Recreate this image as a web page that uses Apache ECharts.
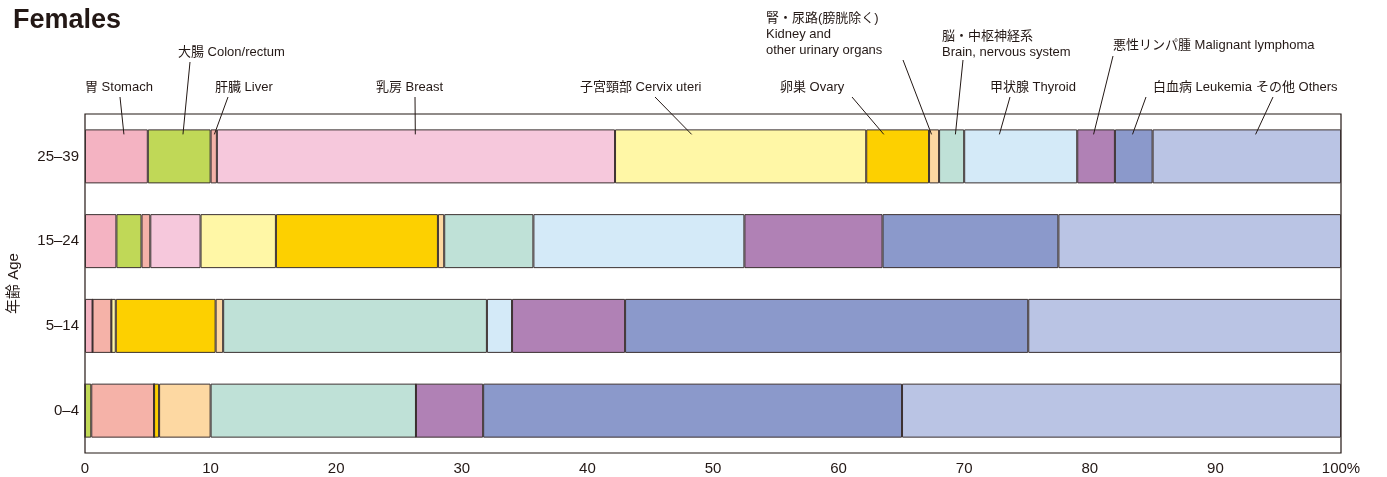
<!DOCTYPE html>
<html>
<head>
<meta charset="utf-8">
<script src="https://cdn.jsdelivr.net/npm/echarts@6/dist/echarts.min.js"></script>
<style>
  html, body { margin: 0; padding: 0; background: #fff; }
  #chart { width: 1387px; height: 477px; }
</style>
</head>
<body>
<div id="chart"></div>
<script>
// age groups, bottom to top
var ages = ['0–4', '5–14', '15–24', '25–39']

// share of cases (%) per site, one value per age group
var stomach = [0, 0.6, 2.5, 5.0]
var colon = [0.5, 0, 2.0, 5.0]
var liver = [5.0, 1.5, 0.7, 0.5]
var breast = [0, 0, 4.0, 31.7]
var cervix = [0, 0.35, 6.0, 20.0]
var ovary = [0.4, 7.95, 12.9, 5.0]
var kidney = [4.1, 0.6, 0.5, 0.8]
var brain = [16.35, 21.0, 7.1, 2.0]
var thyroid = [0, 2.0, 16.8, 9.0]
var lymphoma = [5.35, 9.0, 11.0, 3.0]
var leukemia = [33.35, 32.1, 14.0, 3.0]
var others = [34.95, 24.9, 22.5, 15.0]

var xTicks = [0, 10, 20, 30, 40, 50, 60, 70, 80, 90, 100]

var sites = [
  { name: 'Stomach', data: stomach, color: '#f4b3c2' },
  { name: 'Colon/rectum', data: colon, color: '#c0d857' },
  { name: 'Liver', data: liver, color: '#f5b2a8' },
  { name: 'Breast', data: breast, color: '#f6c8dc' },
  { name: 'Cervix uteri', data: cervix, color: '#fff7a6' },
  { name: 'Ovary', data: ovary, color: '#fdd000' },
  { name: 'Kidney', data: kidney, color: '#fdd8a2' },
  { name: 'Brain', data: brain, color: '#bfe1d7' },
  { name: 'Thyroid', data: thyroid, color: '#d4eaf8' },
  { name: 'Malignant lymphoma', data: lymphoma, color: '#b081b5' },
  { name: 'Leukemia', data: leukemia, color: '#8b99cb' },
  { name: 'Others', data: others, color: '#bac4e4' }
]

// callout labels above the top bar: text lines, text position, leader start, anchor (in % on the 25-39 bar)
var callouts = [
  { lines: ['胃 Stomach'], x: 85, y: 87, lx: 120, ly: 97, at: 3.1 },
  { lines: ['大腸 Colon/rectum'], x: 178, y: 52, lx: 190, ly: 62, at: 7.8 },
  { lines: ['肝臓 Liver'], x: 215, y: 87, lx: 228, ly: 97, at: 10.3 },
  { lines: ['乳房 Breast'], x: 376, y: 87, lx: 415, ly: 97, at: 26.3 },
  { lines: ['子宮頸部 Cervix uteri'], x: 580, y: 87, lx: 655, ly: 97, at: 48.3 },
  { lines: ['卵巣 Ovary'], x: 780, y: 87, lx: 852, ly: 97, at: 63.6 },
  { lines: ['腎・尿路(膀胱除く)', 'Kidney and', 'other urinary organs'], x: 766, y: 18, lx: 903, ly: 60, at: 67.4 },
  { lines: ['脳・中枢神経系', 'Brain, nervous system'], x: 942, y: 36, lx: 963, ly: 60, at: 69.3 },
  { lines: ['甲状腺 Thyroid'], x: 990, y: 87, lx: 1010, ly: 97, at: 72.8 },
  { lines: ['悪性リンパ腫 Malignant lymphoma'], x: 1113, y: 45, lx: 1113, ly: 56, at: 80.3 },
  { lines: ['白血病 Leukemia'], x: 1153, y: 87, lx: 1146, ly: 97, at: 83.4 },
  { lines: ['その他 Others'], x: 1256, y: 87, lx: 1273, ly: 97, at: 93.2 }
]

var FONT = '"Liberation Sans", "Noto Sans CJK JP", sans-serif'
var INK = '#231815'

var chart = echarts.init(document.getElementById('chart'))

chart.setOption({
  animation: false,
  title: {
    text: 'Females',
    left: 8,
    top: 2,
    textStyle: { fontFamily: FONT, fontSize: 27, fontWeight: 'bold', color: INK }
  },
  grid: {
    left: 85,
    right: 46,
    top: 114,
    bottom: 24,
    outerBoundsMode: 'none',
    containLabel: false,
    show: true,
    borderColor: INK,
    borderWidth: 1.2,
    backgroundColor: 'transparent'
  },
  xAxis: {
    type: 'value',
    min: 0,
    max: 100,
    interval: 10,
    axisLine: { show: false },
    axisTick: { show: false },
    splitLine: { show: false },
    axisLabel: {
      margin: 8,
      fontFamily: FONT,
      fontSize: 15,
      color: INK,
      formatter: function(v) {
        return xTicks.indexOf(v) < 0 ? '' : (v === 100 ? '100%' : String(v))
      }
    }
  },
  yAxis: {
    type: 'category',
    data: ages,
    name: '年齢 Age',
    nameLocation: 'middle',
    nameGap: 64,
    nameRotate: 90,
    nameTextStyle: { fontFamily: FONT, fontSize: 15, color: INK },
    axisLine: { show: false },
    axisTick: { show: false },
    axisLabel: { margin: 6, fontFamily: FONT, fontSize: 15, color: INK }
  },
  series: sites.map(function(s) {
    return {
      name: s.name,
      type: 'bar',
      stack: 'total',
      barWidth: 54,
      data: s.data,
      itemStyle: {
        color: s.color,
        borderColor: '#3b3030',
        borderWidth: 1
      }
    }
  })
})

// callout text and leader lines, anchored on the top bar through the chart's own scales
var graphics = []
callouts.forEach(function(c) {
  c.lines.forEach(function(line, i) {
    graphics.push({
      type: 'text',
      x: c.x,
      y: c.y + i * 16,
      style: {
        text: line,
        font: '13px ' + FONT,
        fill: INK,
        textVerticalAlign: 'middle'
      }
    })
  })
  var p = chart.convertToPixel({ gridIndex: 0 }, [c.at, ages[ages.length - 1]])
  graphics.push({
    type: 'line',
    shape: { x1: c.lx, y1: c.ly, x2: p[0], y2: p[1] - 22 },
    style: { stroke: INK, lineWidth: 1 },
    z: 10
  })
})
chart.setOption({ graphic: graphics })
</script>
</body>
</html>
